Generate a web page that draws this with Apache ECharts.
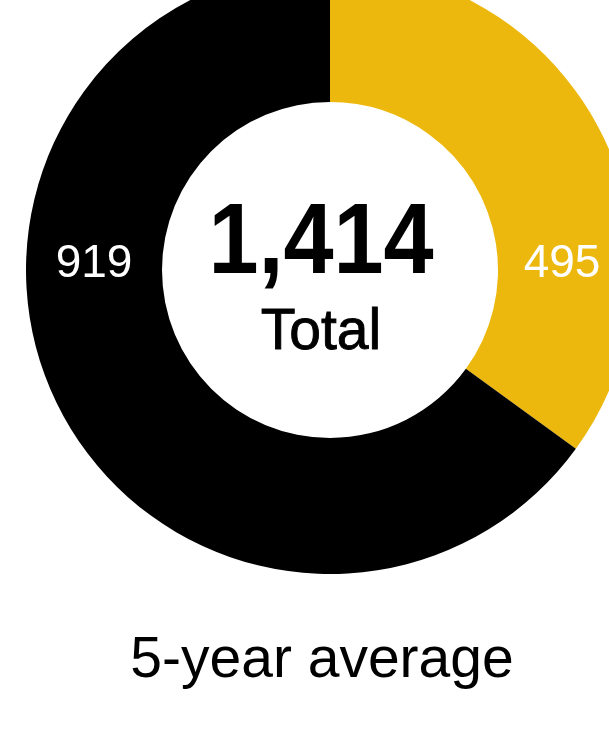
<!DOCTYPE html>
<html>
<head>
<meta charset="utf-8">
<style>
html,body{margin:0;padding:0;background:#fff;}
#chart{width:609px;height:735px;}
</style>
<script src="https://cdn.jsdelivr.net/npm/echarts@6/dist/echarts.min.js"></script>
</head>
<body>
<div id="chart"></div>
<script>
const categories = ['Category A', 'Category B'];
const values = [495, 919];
const colors = ['#EDB80E', '#000000'];
const totalLabel = 'Total';
const subtitle = '5-year average';

const total = values.reduce((a, b) => a + b, 0);
const fmt = n => n.toLocaleString('en-US');
const FONT = '"Liberation Sans", Arial, Helvetica, sans-serif';

const chart = echarts.init(document.getElementById('chart'), null, {renderer: 'canvas'});
chart.setOption({
  animation: false,
  backgroundColor: '#ffffff',
  series: [{
    type: 'pie',
    center: [330, 270],
    radius: [168, 304],
    startAngle: 90,
    clockwise: true,
    silent: true,
    z: 1,
    label: {show: false},
    labelLine: {show: false},
    itemStyle: {borderWidth: 0},
    data: categories.map((c, i) => ({name: c, value: values[i], itemStyle: {color: colors[i]}}))
  }],
  graphic: [
    {type: 'text', z: 100, x: 94, y: 264, style: {text: fmt(values[1]), fill: '#fff', font: '46px ' + FONT, textAlign: 'center', textVerticalAlign: 'middle'}},
    {type: 'text', z: 100, x: 562, y: 264, style: {text: fmt(values[0]), fill: '#fff', font: '46px ' + FONT, textAlign: 'center', textVerticalAlign: 'middle'}},
    {type: 'text', z: 100, x: 321, y: 245, scaleX: 0.9, originX: 0, style: {text: fmt(total), fill: '#000', font: 'bold 100px ' + FONT, textAlign: 'center', textVerticalAlign: 'middle'}},
    {type: 'text', z: 100, x: 321, y: 333, style: {text: totalLabel, fill: '#000', stroke: '#000', lineWidth: 0.9, font: '57px ' + FONT, textAlign: 'center', textVerticalAlign: 'middle'}},
    {type: 'text', z: 100, x: 322, y: 661, style: {text: subtitle, fill: '#000', font: '57px ' + FONT, textAlign: 'center', textVerticalAlign: 'middle'}}
  ]
});
</script>
</body>
</html>
